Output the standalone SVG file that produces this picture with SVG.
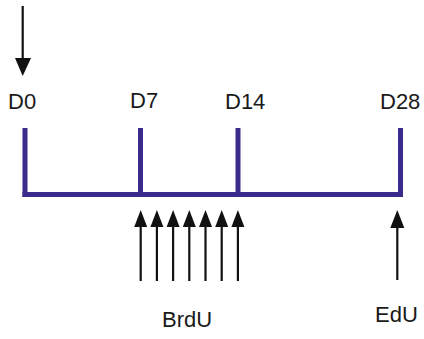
<svg xmlns="http://www.w3.org/2000/svg" width="424" height="339" viewBox="0 0 424 339">
  <style>
    .lbl { font-family: "Liberation Sans", Arial, sans-serif; font-size: 22px; fill: #1a1a1a; }
    .tl { stroke: #3a2a8c; stroke-width: 5; fill: none; stroke-linecap: butt; }
    .arr { stroke: #111; stroke-width: 2.2; fill: none; }
    .head { fill: #111; }
  </style>
  <rect width="424" height="339" fill="#ffffff"/>

  <!-- timeline axis -->
  <g id="timeline">
    <line class="tl" x1="25" y1="128" x2="25" y2="197"/>
    <line class="tl" x1="22.5" y1="194.5" x2="403" y2="194.5"/>
    <line class="tl" x1="140.5" y1="128" x2="140.5" y2="194"/>
    <line class="tl" x1="238" y1="128" x2="238" y2="194"/>
    <line class="tl" x1="400.5" y1="128" x2="400.5" y2="197"/>
  </g>

  <!-- time point labels -->
  <g id="d0"><text class="lbl" x="8" y="109">D0</text></g>
  <g id="d7"><text class="lbl" x="130" y="108">D7</text></g>
  <g id="d14"><text class="lbl" x="225" y="109">D14</text></g>
  <g id="d28"><text class="lbl" x="380" y="109">D28</text></g>
  <g id="brdu"><text class="lbl" x="162" y="327">BrdU</text></g>
  <g id="edu"><text class="lbl" x="375" y="321.5">EdU</text></g>

  <!-- arrows -->
  <g id="connectors">
    <line class="arr" x1="22.7" y1="6" x2="22.7" y2="62"/>
    <polygon class="head" points="15,58 31,58 22.7,76"/>

    <g id="brdu-arrows">
      <line class="arr" x1="140.7" y1="222" x2="140.7" y2="281"/>
      <polygon class="head" points="134.2,227 147.2,227 140.7,210"/>
      <line class="arr" x1="156.9" y1="222" x2="156.9" y2="281"/>
      <polygon class="head" points="150.4,227 163.4,227 156.9,210"/>
      <line class="arr" x1="173.1" y1="222" x2="173.1" y2="281"/>
      <polygon class="head" points="166.6,227 179.6,227 173.1,210"/>
      <line class="arr" x1="189.3" y1="222" x2="189.3" y2="281"/>
      <polygon class="head" points="182.8,227 195.8,227 189.3,210"/>
      <line class="arr" x1="205.5" y1="222" x2="205.5" y2="281"/>
      <polygon class="head" points="199,227 212,227 205.5,210"/>
      <line class="arr" x1="221.7" y1="222" x2="221.7" y2="281"/>
      <polygon class="head" points="215.2,227 228.2,227 221.7,210"/>
      <line class="arr" x1="237.9" y1="222" x2="237.9" y2="281"/>
      <polygon class="head" points="231.4,227 244.4,227 237.9,210"/>
    </g>

    <line class="arr" x1="397.3" y1="222" x2="397.3" y2="280"/>
    <polygon class="head" points="390.3,228 404.3,228 397.3,210"/>
  </g>
</svg>
